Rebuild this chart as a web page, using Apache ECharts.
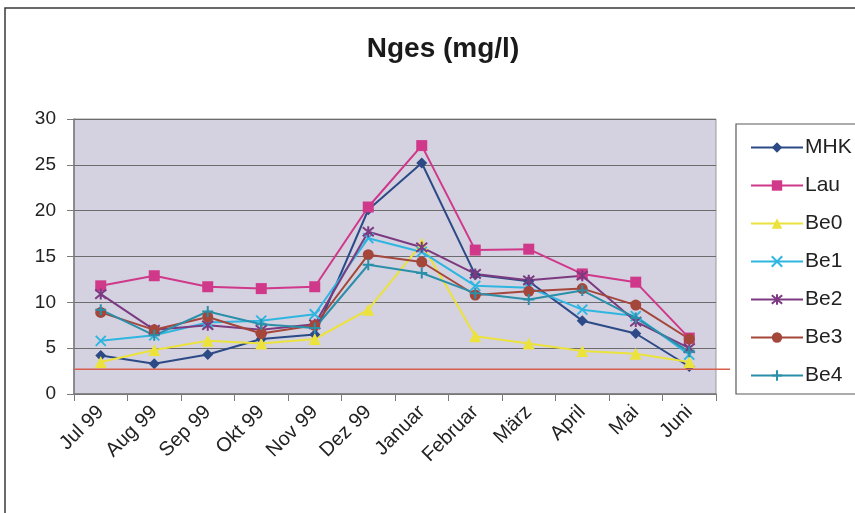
<!DOCTYPE html>
<html>
<head>
<meta charset="utf-8">
<script src="https://cdn.jsdelivr.net/npm/echarts@6/dist/echarts.min.js"></script>
<style>
  html, body { margin: 0; padding: 0; background: #ffffff; }
  #chart { width: 855px; height: 513px; }
</style>
</head>
<body>
<div id="chart"></div>
<script>
// Monthly total nitrogen (Nges, mg/l) per sampling station, Jul 1999 - Jun 2000
const months = ['Jul 99', 'Aug 99', 'Sep 99', 'Okt 99', 'Nov 99', 'Dez 99',
                'Januar', 'Februar', 'März', 'April', 'Mai', 'Juni'];

const MHK = [4.2, 3.3, 4.3, 6.0, 6.5, 20.1, 25.2, 13.0, 12.3, 8.0, 6.6, 3.0];
const Lau = [11.8, 12.9, 11.7, 11.5, 11.7, 20.4, 27.1, 15.7, 15.8, 13.1, 12.2, 6.1];
const Be0 = [3.5, 4.8, 5.8, 5.5, 6.0, 9.2, 16.4, 6.3, 5.5, 4.7, 4.4, 3.5];
const Be1 = [5.8, 6.4, 7.8, 8.0, 8.7, 17.0, 15.5, 11.8, 11.6, 9.2, 8.5, 4.3];
const Be2 = [10.9, 7.0, 7.5, 7.0, 7.6, 17.7, 16.0, 13.1, 12.4, 12.9, 7.9, 5.0];
const Be3 = [8.9, 7.0, 8.4, 6.6, 7.5, 15.2, 14.4, 10.8, 11.2, 11.5, 9.7, 6.0];
const Be4 = [9.2, 6.4, 9.0, 7.6, 7.2, 14.1, 13.2, 11.0, 10.3, 11.3, 8.3, 4.6];

// Reference level drawn as a horizontal rule
const limitValue = [2.7];

const yTicks = [0, 5, 10, 15, 20, 25, 30];

// Marker shapes
const SYM_X = 'path://M0,0 L10,10 M10,0 L0,10';
const SYM_STAR = 'path://M0,0 L10,10 M10,0 L0,10 M5,-1 L5,11';
const SYM_PLUS = 'path://M5,0 L5,10 M0,5 L10,5';

const stations = [
  { name: 'MHK', data: MHK, color: '#2c4a86', symbol: 'diamond', size: 11 },
  { name: 'Lau', data: Lau, color: '#d0388a', symbol: 'rect', size: 11 },
  { name: 'Be0', data: Be0, color: '#ece23c', symbol: 'triangle', size: 12 },
  { name: 'Be1', data: Be1, color: '#2fb6e0', symbol: SYM_X, size: 10, stroke: true },
  { name: 'Be2', data: Be2, color: '#7c3a80', symbol: SYM_STAR, size: 11, stroke: true },
  { name: 'Be3', data: Be3, color: '#a4463a', symbol: 'circle', size: 11 },
  { name: 'Be4', data: Be4, color: '#2a8fa8', symbol: SYM_PLUS, size: 11, stroke: true }
];

const FONT = '"Liberation Sans", Arial, sans-serif';

const series = stations.map(s => ({
  name: s.name,
  type: 'line',
  data: s.data,
  symbol: s.symbol,
  symbolSize: s.size,
  showAllSymbol: true,
  color: s.color,
  lineStyle: { color: s.color, width: 2 },
  itemStyle: s.stroke
    ? { color: s.color, borderColor: s.color, borderWidth: 2 }
    : { color: s.color, borderWidth: 0 },
  emphasis: { disabled: true },
  animation: false
}));

const chart = echarts.init(document.getElementById('chart'), null, { renderer: 'canvas' });

chart.setOption({
  animation: false,
  backgroundColor: '#ffffff',
  title: {
    text: 'Nges (mg/l)',
    left: 438,
    top: 30,
    textAlign: 'center',
    textStyle: { fontFamily: FONT, fontSize: 28, fontWeight: 'bold', color: '#1a1a1a' }
  },
  grid: {
    left: 74, top: 119, width: 642, height: 275,
    show: true,
    backgroundColor: '#d4d1e1',
    borderColor: '#9a9a9a',
    borderWidth: 1
  },
  legend: {
    orient: 'vertical',
    left: 745,
    top: 132,
    itemWidth: 52,
    itemHeight: 13,
    itemGap: 17,
    textStyle: { fontFamily: FONT, fontSize: 21, color: '#222', padding: [0, 0, 0, -3] },
    data: stations.map(s => s.name)
  },
  xAxis: {
    type: 'category',
    data: months,
    boundaryGap: true,
    axisLine: { show: true, lineStyle: { color: '#7a7a7a', width: 1.5 } },
    axisTick: { show: true, length: 7, alignWithLabel: false, lineStyle: { color: '#7a7a7a' } },
    axisLabel: {
      rotate: 45, interval: 0, margin: 15,
      fontFamily: FONT, fontSize: 20, color: '#222'
    },
    splitLine: { show: false }
  },
  yAxis: {
    type: 'value',
    min: yTicks[0],
    max: yTicks[yTicks.length - 1],
    interval: 5,
    axisLine: { show: true, lineStyle: { color: '#7a7a7a', width: 1.5 } },
    axisTick: { show: true, length: 7, lineStyle: { color: '#7a7a7a' } },
    axisLabel: { margin: 18, fontFamily: FONT, fontSize: 19, color: '#222' },
    splitLine: { show: true, lineStyle: { color: '#6c6c6c', width: 1.2 } }
  },
  series: series
});

// Outer frame, legend box and the reference rule (positioned via the y scale)
const yLimit = chart.convertToPixel({ yAxisIndex: 0 }, limitValue[0]);
const xStart = chart.convertToPixel({ xAxisIndex: 0 }, 0) - 27;
chart.setOption({
  graphic: [
    {
      type: 'rect', silent: true, z: -1,
      shape: { x: 5, y: 8, width: 1000, height: 1000 },
      style: { fill: 'none', stroke: '#3a3a3a', lineWidth: 1.5 }
    },
    {
      type: 'rect', silent: true, z: 0,
      shape: { x: 736, y: 124, width: 200, height: 270 },
      style: { fill: '#ffffff', stroke: '#5a5a5a', lineWidth: 1.2 }
    },
    {
      type: 'line', silent: true, z: 5,
      shape: { x1: xStart, y1: yLimit, x2: 730, y2: yLimit },
      style: { stroke: '#d8604e', lineWidth: 1.5 }
    }
  ]
});
</script>
</body>
</html>
